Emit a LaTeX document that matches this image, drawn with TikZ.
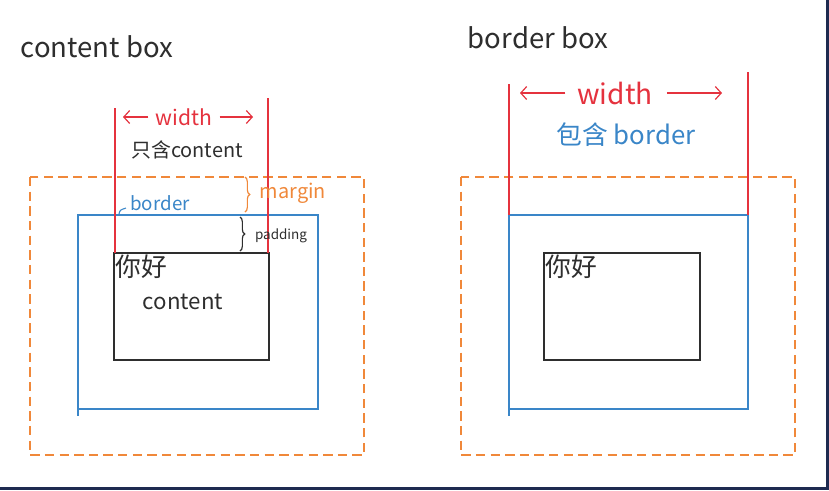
\documentclass[tikz,border=0pt]{standalone}
\usepackage{fontspec}
\setmainfont{Noto Sans CJK SC}
\usetikzlibrary{arrows.meta,decorations.pathreplacing}

\definecolor{penred}{HTML}{E5323E}
\definecolor{penorange}{HTML}{F0883A}
\definecolor{penblue}{HTML}{3A86C8}
\definecolor{penblack}{HTML}{2E2E2E}
\definecolor{frame}{HTML}{1E2A50}

\begin{document}
\begin{tikzpicture}[x=0.03cm,y=-0.03cm,every node/.style={inner sep=0pt,text=penblack},
  marginbox/.style={draw=penorange,line width=1.1pt,dash pattern=on 8pt off 4.5pt},
  borderbox/.style={draw=penblue,line width=1.1pt},
  contentbox/.style={draw=penblack,line width=1.1pt},
  widthline/.style={draw=penred,line width=1pt},
  widtharrow/.style={penred,line width=1pt,shorten <=6pt,-{Straight Barb[length=5pt,width=11pt]}},
  curly/.style={decorate,decoration={brace,amplitude=4pt},line width=1pt}]
  \useasboundingbox (0,0) rectangle (829,490);
  \fill[white] (0,0) rectangle (829,490);
  \fill[frame] (0,487) rectangle (829,490);
  \fill[frame] (826,0) rectangle (829,490);

  % content box
  \node[font=\fontsize{23.5}{23.5}\selectfont] (cbtitle) at (97,47) {content box};
  \draw[marginbox] (30,177) rectangle (364,455);
  \draw[borderbox] (78,215) rectangle (318,409);
  \draw[borderbox] (78,409) -- (78,416);
  \draw[contentbox] (114,253) rectangle (269,360);
  \draw[widthline] (115,108) -- (115,253);
  \draw[widthline] (268,98) -- (268,253);
  \node[font=\fontsize{18}{18}\selectfont,text=penred] (cbwidth) at (184,117) {width};
  \coordinate (cbleft) at (123,117);
  \coordinate (cbright) at (253,117);
  \draw[widtharrow] (cbwidth) -- (cbleft);
  \draw[widtharrow] (cbwidth) -- (cbright);
  \node[font=\fontsize{17}{17}\selectfont] (cbnote) at (187,150) {只含content};
  \draw[penorange,curly] (245,177) -- (245,212);
  \node[font=\fontsize{17}{17}\selectfont,text=penorange] (cbmargin) at (293,193) {margin};
  \node[font=\fontsize{16}{16}\selectfont,text=penblue] (cbborder) at (160,203) {border};
  \draw[penblue,line width=0.9pt] (119,214) .. controls (120,210) .. (126,208);
  \draw[penblack,curly] (240,217) -- (240,251);
  \node[font=\fontsize{11.5}{11.5}\selectfont] (cbpadding) at (281,236) {padding};
  \node[font=\fontsize{22}{22}\selectfont,anchor=north west] (cbhello) at (115,255) {你好};
  \node[font=\fontsize{19}{19}\selectfont] (cbcontent) at (183,302) {content};

  % border box
  \node[font=\fontsize{23.5}{23.5}\selectfont] (bbtitle) at (538,38) {border box};
  \draw[marginbox] (461,177) rectangle (795,455);
  \draw[borderbox] (509,215) rectangle (748,409);
  \draw[borderbox] (509,409) -- (509,416);
  \draw[contentbox] (544,253) rectangle (700,360);
  \draw[widthline] (509,84) -- (509,215);
  \draw[widthline] (748,72) -- (748,215);
  \node[font=\fontsize{24}{24}\selectfont,text=penred] (bbwidth) at (615,93) {width};
  \coordinate (bbleft) at (520,93);
  \coordinate (bbright) at (722,93);
  \draw[widtharrow,shorten <=10pt] (bbwidth) -- (bbleft);
  \draw[widtharrow,shorten <=12pt] (bbwidth) -- (bbright);
  \node[font=\fontsize{22}{22}\selectfont,text=penblue] (bbnote) at (626,135) {包含 border};
  \node[font=\fontsize{22}{22}\selectfont,anchor=north west] (bbhello) at (545,255) {你好};
\end{tikzpicture}
\end{document}
